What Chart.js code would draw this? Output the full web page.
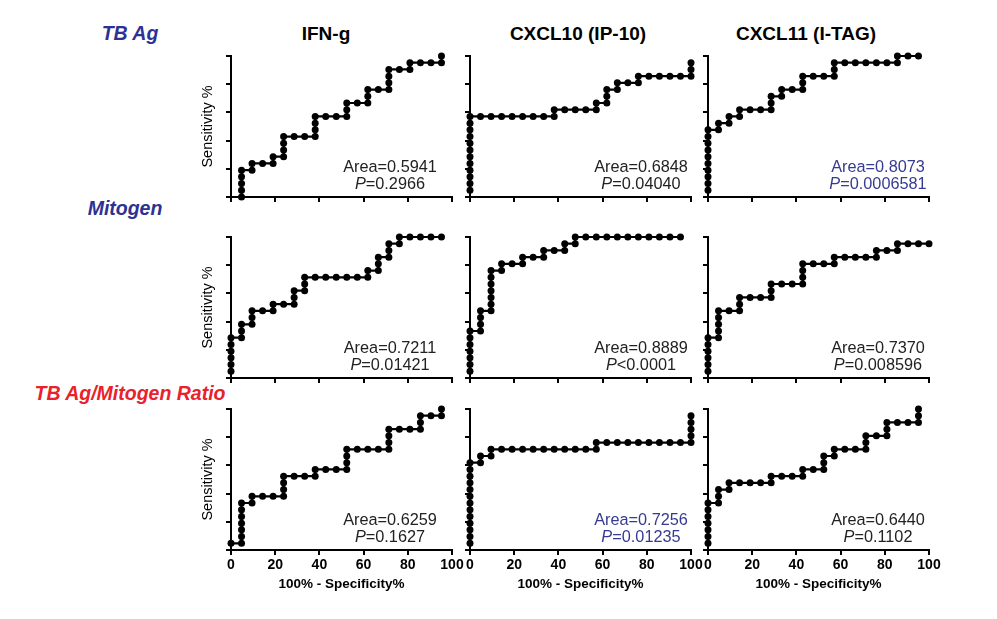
<!DOCTYPE html>
<html>
<head>
<meta charset="UTF-8">
<title>ROC curves - TB Ag / Mitogen</title>
<script src="https://cdn.jsdelivr.net/npm/chart.js@4.4.1/dist/chart.umd.min.js"></script>
<style>
  body { margin: 0; background: #fff; width: 997px; height: 619px; position: relative; overflow: hidden;
         font-family: "Liberation Sans", Arial, sans-serif; }
  canvas { position: absolute; }
  .lbl { position: absolute; white-space: nowrap; transform: translate(-50%, -50%); }
  .row { font-weight: bold; font-style: italic; font-size: 19.5px; color: #2e3192; }
  .red { color: #e8212b; }
  .col { font-weight: bold; font-size: 19px; color: #000; }
  .stat { position: absolute; transform: translateX(-50%); text-align: center; font-size: 16.3px;
          line-height: 17px; color: #222; white-space: nowrap; }
  .stat.blue { color: #363a92; }
</style>
</head>
<body>
<script>
// points are [k, j]: k = controls step, j = cases step, both in units of 100/21 %
const STEP = 100 / 21;

const ifnTb = [[1,0],[1,1],[1,2],[1,3],[1,4],[2,4],[2,5],[3,5],[4,5],[4,6],[5,6],[5,7],[5,8],[5,9],
  [6,9],[7,9],[8,9],[8,10],[8,11],[8,12],[9,12],[10,12],[11,12],[11,13],[11,14],[12,14],[13,14],
  [13,15],[13,16],[14,16],[15,16],[15,17],[15,18],[15,19],[16,19],[17,19],[17,20],[18,20],[19,20],
  [20,20],[20,21]];
const cxcl10Tb = [[0,1],[0,2],[0,3],[0,4],[0,5],[0,6],[0,7],[0,8],[0,9],[0,10],[0,11],[0,12],
  [1,12],[2,12],[3,12],[4,12],[5,12],[6,12],[7,12],[8,12],[8,13],[9,13],[10,13],[11,13],[12,13],
  [12,14],[13,14],[13,15],[13,16],[14,16],[14,17],[15,17],[16,17],[16,18],[17,18],[18,18],[19,18],
  [20,18],[21,18],[21,19],[21,20]];
const cxcl11Tb = [[0,1],[0,2],[0,3],[0,4],[0,5],[0,6],[0,7],[0,8],[0,9],[0,10],[1,10],[1,11],
  [2,11],[2,12],[3,12],[3,13],[4,13],[5,13],[6,13],[6,14],[6,15],[7,15],[7,16],[8,16],[9,16],
  [9,17],[9,18],[10,18],[11,18],[12,18],[12,19],[12,20],[13,20],[14,20],[15,20],[16,20],[17,20],
  [18,20],[18,21],[19,21],[20,21]];

const ifnMit = [[0,1],[0,2],[0,3],[0,4],[0,5],[0,6],[1,6],[1,7],[1,8],[2,8],[2,9],[2,10],[3,10],
  [4,10],[4,11],[5,11],[6,11],[6,12],[6,13],[7,13],[7,14],[7,15],[8,15],[9,15],[10,15],[11,15],
  [12,15],[13,15],[13,16],[14,16],[14,17],[14,18],[15,18],[15,19],[15,20],[16,20],[16,21],[17,21],
  [18,21],[19,21],[20,21]];
const cxcl10Mit = [[0,1],[0,2],[0,3],[0,4],[0,5],[0,6],[0,7],[1,7],[1,8],[1,9],[1,10],[2,10],
  [2,11],[2,12],[2,13],[2,14],[2,15],[2,16],[3,16],[3,17],[4,17],[5,17],[5,18],[6,18],[7,18],
  [7,19],[8,19],[9,19],[9,20],[10,20],[10,21],[11,21],[12,21],[13,21],[14,21],[15,21],[16,21],
  [17,21],[18,21],[19,21],[20,21]];
const cxcl11Mit = [[0,1],[0,2],[0,3],[0,4],[0,5],[0,6],[1,6],[1,7],[1,8],[1,9],[1,10],[2,10],
  [3,10],[3,11],[3,12],[4,12],[5,12],[6,12],[6,13],[6,14],[7,14],[8,14],[9,14],[9,15],[9,16],
  [9,17],[10,17],[11,17],[12,17],[12,18],[13,18],[14,18],[15,18],[16,18],[16,19],[17,19],[18,19],
  [18,20],[19,20],[20,20],[21,20]];

const ifnRatio = [[0,1],[1,1],[1,2],[1,3],[1,4],[1,5],[1,6],[1,7],[2,7],[2,8],[3,8],[4,8],[5,8],
  [5,9],[5,10],[5,11],[6,11],[7,11],[8,11],[8,12],[9,12],[10,12],[11,12],[11,13],[11,14],[11,15],
  [12,15],[13,15],[14,15],[15,15],[15,16],[15,17],[15,18],[16,18],[17,18],[18,18],[18,19],[18,20],
  [19,20],[20,20],[20,21]];
const cxcl10Ratio = [[0,1],[0,2],[0,3],[0,4],[0,5],[0,6],[0,7],[0,8],[0,9],[0,10],[0,11],[0,12],
  [0,13],[1,13],[1,14],[2,14],[2,15],[3,15],[4,15],[5,15],[6,15],[7,15],[8,15],[9,15],[10,15],
  [11,15],[12,15],[12,16],[13,16],[14,16],[15,16],[16,16],[17,16],[18,16],[19,16],[20,16],[21,16],
  [21,17],[21,18],[21,19],[21,20]];
const cxcl11Ratio = [[0,1],[0,2],[0,3],[0,4],[0,5],[0,6],[0,7],[1,7],[1,8],[1,9],[2,9],[2,10],
  [3,10],[4,10],[5,10],[6,10],[6,11],[7,11],[8,11],[9,11],[9,12],[10,12],[11,12],[11,13],[11,14],
  [12,14],[12,15],[13,15],[14,15],[15,15],[15,16],[15,17],[16,17],[17,17],[17,18],[17,19],[18,19],
  [19,19],[20,19],[20,20],[20,21]];

const rowLabels = ['TB Ag', 'Mitogen', 'TB Ag/Mitogen Ratio'];
const colLabels = ['IFN-g', 'CXCL10 (IP-10)', 'CXCL11 (I-TAG)'];
const areas = ['0.5941', '0.6848', '0.8073', '0.7211', '0.8889', '0.7370', '0.6259', '0.7256', '0.6440'];
const pValues = ['=0.2966', '=0.04040', '=0.0006581', '=0.01421', '<0.0001', '=0.008596',
  '=0.1627', '=0.01235', '=0.1102'];
const significant = [false, false, true, false, false, false, false, true, false];
const xTicks = [0, 20, 40, 60, 80, 100];

const curves = [ifnTb, cxcl10Tb, cxcl11Tb, ifnMit, cxcl10Mit, cxcl11Mit, ifnRatio, cxcl10Ratio, cxcl11Ratio];

// layout of the plot areas
const plotLeft = [231, 470, 708];
const plotTop = [56, 237, 409];
const plotW = 221, plotH = 141;
const statCenter = [390, 641, 878];

function addLabel(cls, text, x, y) {
  const d = document.createElement('div');
  d.className = 'lbl ' + cls;
  d.textContent = text;
  d.style.left = x + 'px';
  d.style.top = y + 'px';
  document.body.appendChild(d);
}

addLabel('row', rowLabels[0], 130, 33);
addLabel('row', rowLabels[1], 125, 208);
addLabel('row red', rowLabels[2], 130, 393);
addLabel('col', colLabels[0], 326, 34);
addLabel('col', colLabels[1], 578, 34);
addLabel('col', colLabels[2], 806, 34);

curves.forEach((pts, i) => {
  const r = Math.floor(i / 3), c = i % 3;
  const bottomRow = r === 2;
  const yw = c === 0 ? 32 : 20;
  const xh = bottomRow ? 42 : 8;
  const padTop = 8, padRight = 14;

  const cv = document.createElement('canvas');
  const W = yw + plotW + padRight, H = padTop + plotH + xh;
  cv.width = W; cv.height = H;
  cv.style.width = W + 'px'; cv.style.height = H + 'px';
  cv.style.left = (plotLeft[c] - yw) + 'px';
  cv.style.top = (plotTop[r] - padTop) + 'px';
  document.body.appendChild(cv);

  new Chart(cv, {
    type: 'scatter',
    data: {
      datasets: [{
        data: pts.map(p => ({ x: p[0] * STEP, y: p[1] * STEP })),
        showLine: true,
        borderColor: '#000',
        borderWidth: 2.2,
        pointRadius: 3.5,
        pointHoverRadius: 3.5,
        pointBackgroundColor: '#000',
        pointBorderWidth: 0,
        clip: false
      }]
    },
    options: {
      responsive: false,
      animation: false,
      devicePixelRatio: 1,
      events: [],
      layout: { padding: { left: 0, top: padTop, right: padRight, bottom: 0 } },
      plugins: { legend: { display: false }, tooltip: { enabled: false } },
      scales: {
        x: {
          type: 'linear', min: 0, max: 100,
          afterBuildTicks: s => { s.ticks = xTicks.map(v => ({ value: v })); },
          afterFit: s => { s.height = xh; },
          ticks: { display: bottomRow, color: '#000', padding: 2,
                   font: { family: 'Liberation Sans', size: 14, weight: 'bold' } },
          grid: { drawOnChartArea: false, color: '#000', lineWidth: 2, tickLength: 5 },
          border: { color: '#000', width: 2 },
          title: { display: bottomRow, text: '100% - Specificity%', color: '#000', padding: 0,
                   font: { family: 'Liberation Sans', size: 13.5, weight: 'bold' } }
        },
        y: {
          type: 'linear', min: 0, max: 100,
          ticks: { display: false, stepSize: 20 },
          afterFit: s => { s.width = yw; },
          grid: { drawOnChartArea: false, color: '#000', lineWidth: 2, tickLength: 5 },
          border: { color: '#000', width: 2 },
          title: { display: c === 0, text: 'Sensitivity %', color: '#000', padding: 0,
                   font: { family: 'Liberation Sans', size: 14.5 } }
        }
      }
    }
  });

  const s = document.createElement('div');
  s.className = 'stat' + (significant[i] ? ' blue' : '');
  s.style.left = statCenter[c] + 'px';
  s.style.top = (plotTop[r] + plotH - 39) + 'px';
  s.innerHTML = 'Area=' + areas[i] + '<br><i>P</i>' + pValues[i].replace('<', '&lt;');
  document.body.appendChild(s);
});
</script>
</body>
</html>
